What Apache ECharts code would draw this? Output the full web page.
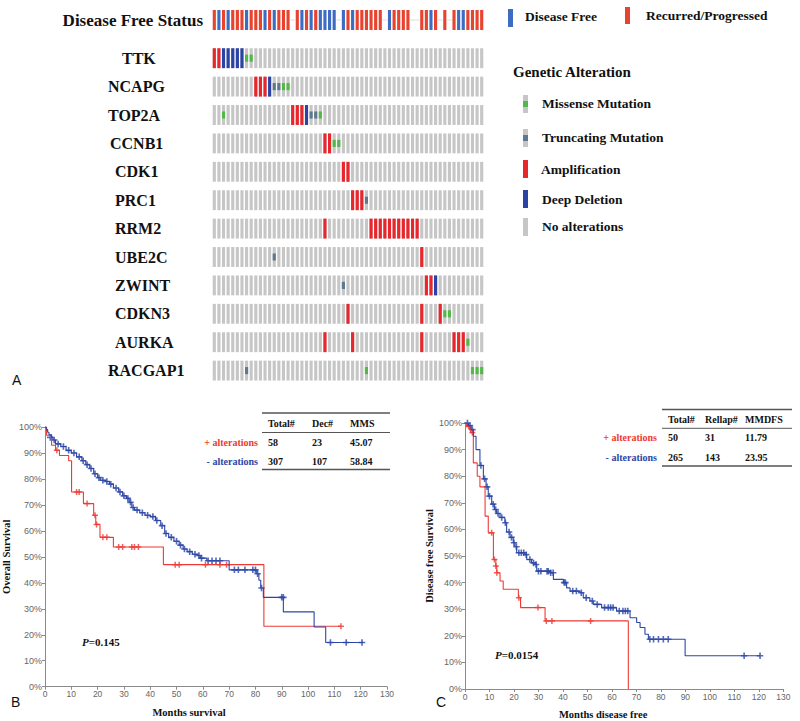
<!DOCTYPE html>
<html><head><meta charset="utf-8">
<script src="https://cdn.jsdelivr.net/npm/echarts@6/dist/echarts.min.js"></script>
<style>html,body{margin:0;padding:0;background:#fff}#c{width:800px;height:721px}</style>
</head><body><div id="c"></div>
<script>
// ---------------- Oncoprint data ----------------
const genes = ['TTK','NCAPG','TOP2A','CCNB1','CDK1','PRC1','RRM2','UBE2C','ZWINT','CDKN3','AURKA','RACGAP1'];
const nCases = 59;
const ampCols = [[0,1],[9,10,11],[17,18,19],[24,25],[28,29],[30,31,32],[24,34,35,36,37,38,39,40,41,42,43,44],[45],[46,47],[29,45,49],[24,30,45,52,53,54],[]];
const delCols = [[2,3,4,5,6],[12],[20],[],[],[],[],[],[48],[],[],[]];
const missenseCols = [[7,8],[15,16],[2,23],[26,27],[],[],[],[],[],[50,51],[55],[33,56,57,58]];
const truncCols = [[],[13,14],[21,22],[],[],[33],[],[13],[28],[],[],[7]];
const dfsStatus = ['R','B','R','B','R','R','R','B','R','R','R','B','R','B','R','R','R','',
  'R','B','R','B','R','B','B','B','B','',
  'B','R','B','R','R','R','R','R','R','',
  'B','R','R','R','R','','',
  'R','R','B','R','',
  'R','',
  'R','B','B','R','R','R','R'];

// ---------------- KM data: Overall survival (B) ----------------
const osAltCurve = [[0,100],[0.6,96.8],[2.5,93],[4,91],[5.5,89],[9,87],[10.1,75],[14.6,70.5],[18.5,66],[19.3,62.5],[20.9,57.5],[26,53.8],[45,47],[83.2,23.3],[112.5,23.3]];
const osAltCensor = [[4.5,91],[12,75],[13,75],[16,70.5],[19,66],[19.6,62.5],[22,57.5],[23.5,57.5],[28,53.8],[29.5,53.8],[33,53.8],[34,53.8],[35.5,53.8],[49.5,47],[51,47],[61,47],[66.5,47],[69,47],[112.5,23.3]];
const osNoAltCurve = [[0,100],[0.5,99],[1,98],[1.5,97],[2.5,96],[3,95],[4,93.5],[6,92.5],[8,91],[10,90],[12,88.5],[14,87],[15.5,85.5],[17,84],[18.5,82],[20,80.5],[21,79.5],[23,79],[24.5,78],[26,76.5],[28,75],[29.5,73.5],[31,72.5],[32,71],[33,69],[34,68],[36,67],[38,66],[40,65.5],[42,64],[44,62],[45.5,59],[47,57.5],[49,56],[51,54.5],[52.5,53],[54,52],[56,51],[58,50.5],[59,49.5],[61.5,48.5],[70,45],[80.5,43.5],[81.3,41],[82,38],[83,34.4],[90.6,28.8],[102.3,23],[106.7,17],[121,17]];
const osNoAltCensor = [[2,96],[3.5,95],[5,93.5],[7,92.5],[9,91],[11,90],[13,88.5],[14.5,87],[16,85.5],[17.5,84],[19,82],[20.5,80.5],[22,79.5],[23.5,79],[25,78],[27,76.5],[28.5,75],[30,73.5],[31.5,72.5],[32.5,71],[33.5,69],[35,68],[37,67],[39,66],[41,65.5],[42.5,64],[44.5,62],[46,59],[48,57.5],[50,56],[51.5,54.5],[53,53],[55,52],[57,51],[58.5,50.5],[59.5,49.5],[62,48.5],[63.5,48.5],[65,48.5],[66.5,48.5],[72,45],[73.5,45],[76,45],[79,45],[80,45],[80.8,43.5],[82.3,38],[90,34.4],[90.6,34.4],[108.5,17],[114.5,17],[120.5,17]];

// ---------------- KM data: Disease free survival (C) ----------------
const dfsAltCurve = [[0,100],[0.7,98.7],[2.3,96.4],[3.4,85],[5,80],[6.1,76],[8.2,65],[9.5,58.7],[11.6,48.7],[12.6,46.2],[13,43.7],[14.3,40.6],[15.6,37.5],[21.8,34.3],[22.7,30.6],[32.7,25.6],[66.7,25.6],[66.7,0]];
const dfsAltCensor = [[1.5,98.7],[3,96.4],[10.9,58.7],[12,48.7],[12.6,46.2],[13,43.7],[22,34.3],[29.8,30.6],[33.2,25.6],[35.5,25.6],[51.3,25.6]];
const dfsNoAltCurve = [[0,100],[1.4,99],[2.5,97.5],[3.4,95],[4.5,90],[6.1,84],[7.5,79],[8.6,76],[9.5,72.5],[10.9,69.5],[12,67.5],[12.9,66],[14.3,64.5],[16.3,62.5],[17,59],[18.4,57],[19.7,55],[20.4,53.5],[21.1,51.2],[24.5,50.5],[25.2,48.7],[27.2,47.4],[28.6,46.8],[29.3,44.3],[34.7,43.7],[36.1,41.2],[40.2,40],[41.5,38],[42.9,36.8],[47,36.2],[48.3,34.3],[51,33.1],[52.4,31.8],[55.8,30.6],[61.9,29.3],[67.4,26.8],[70.1,25],[71.5,23.1],[73.5,20.6],[74.9,18.7],[89.9,12.5],[120.6,12.5]];
const dfsNoAltCensor = [[1,100],[2,99],[3,97.5],[6.5,84],[8,79],[9,76],[10,72.5],[11.5,69.5],[12.5,67.5],[13.5,66],[15,64.5],[16.5,62.5],[18,59],[19,57],[20,55],[21,53.5],[22,51.2],[23,51.2],[24,51.2],[25,50.5],[26.5,48.7],[28,47.4],[29,46.8],[30,44.3],[31,44.3],[33.5,44.3],[34,44.3],[35,43.7],[36,43.7],[40.5,40],[41,40],[44,36.8],[45.5,36.8],[47.5,36.2],[49.5,34.3],[52,33.1],[54,31.8],[57,30.6],[58.5,30.6],[59.5,30.6],[60.5,30.6],[63,29.3],[64.5,29.3],[65.5,29.3],[66.5,29.3],[75.5,18.7],[77,18.7],[79,18.7],[81,18.7],[83,18.7],[114,12.5],[120.5,12.5]];

// ---------------- table text ----------------
const tableBHeader = ['Total#','Dec#','MMS'];
const tableBRows = [['58','23','45.07'],['307','107','58.84']];
const tableCHeader = ['Total#','Rellap#','MMDFS'];
const tableCRows = [['50','31','11.79'],['265','143','23.95']];
const rowLabels = ['+ alterations','- alterations'];
const pValueB = '0.145';
const pValueC = '0.0154';

// ---------------- styles ----------------
const SERIF = '"Liberation Serif","Times New Roman",serif';
const SANS = '"Liberation Sans",Arial,sans-serif';
const C_AMP = '#E8262C', C_DEL = '#2B43A6', C_MIS = '#52B947', C_TRUNC = '#5E7890', C_NONE = '#C6C6C6';
const C_DF = '#3D6CC2', C_REC = '#E8432F';
const C_RED = '#EE3A33', C_BLUE = '#2C46A6';

const caseCats = Array.from({length: nCases}, (_, i) => String(i));

function cellItem(color, hFrac, wFrac) {
  return function (params, api) {
    const p = api.coord([api.value(0), api.value(1)]);
    const sz = api.size([1, 1]);
    const w = sz[0] * wFrac, h = sz[1] * hFrac;
    return {type: 'rect', shape: {x: p[0] - w / 2, y: p[1] - h / 2, width: w, height: h}, style: {fill: color}};
  };
}

const grayData = [], ampData = [], delData = [], misData = [], truncData = [];
genes.forEach((g, gi) => {
  for (let c = 0; c < nCases; c++) grayData.push([c, gi]);
  ampCols[gi].forEach(c => ampData.push([c, gi]));
  delCols[gi].forEach(c => delData.push([c, gi]));
  missenseCols[gi].forEach(c => misData.push([c, gi]));
  truncCols[gi].forEach(c => truncData.push([c, gi]));
});
const dfData = [], recData = [], naData = [];
dfsStatus.forEach((s, c) => {
  if (s === 'B') dfData.push([c, 0]);
  else if (s === 'R') recData.push([c, 0]);
  else naData.push([c, 0]);
});

const W = 0.68, HF = 0.70, HM = 0.25;
const plus = 'path://M3,0H5V3H8V5H5V8H3V5H0V3H3Z';

function kmAxisX(gi, name, pad) {
  return {
    type: 'value', gridIndex: gi, min: 0, max: 130, interval: 10,
    axisLine: {show: true, lineStyle: {color: '#8a8a8a'}},
    axisTick: {show: true, length: 3, lineStyle: {color: '#8a8a8a'}},
    axisLabel: {fontSize: 8.5, color: '#666', margin: 3, fontFamily: SANS},
    splitLine: {show: false},
    name: name, nameLocation: 'middle', nameGap: 20,
    nameTextStyle: {fontFamily: SERIF, fontWeight: 'bold', fontSize: 10.5, color: '#111', padding: pad}
  };
}
function kmAxisY(gi, name, gap) {
  return {
    type: 'value', gridIndex: gi, min: 0, max: 100, interval: 10,
    axisLine: {show: true, lineStyle: {color: '#8a8a8a'}},
    axisTick: {show: true, length: 3, lineStyle: {color: '#8a8a8a'}},
    axisLabel: {fontSize: 9, color: '#666', margin: 3, fontFamily: SANS, formatter: '{value}%'},
    splitLine: {show: false},
    name: name, nameLocation: 'middle', nameGap: gap, nameRotate: 90,
    nameTextStyle: {fontFamily: SERIF, fontWeight: 'bold', fontSize: 10.5, color: '#111'}
  };
}

function tableGraphics(x0, x1, yTop, yHead, yMid, rowsY, yBot, colX, header, rows, labelX) {
  const g = [];
  const line = (y, w) => ({type: 'line', shape: {x1: x0, y1: y, x2: x1, y2: y}, style: {stroke: '#555', lineWidth: w}});
  g.push(line(yTop, 1.6), line(yMid, 1), line(yBot, 1.6));
  const ts = (t, x, y, fill, align) => ({type: 'text', x: x, y: y, style: {text: t, fill: fill || '#111', font: 'bold 10px ' + SERIF, textAlign: align || 'left', textVerticalAlign: 'middle'}});
  header.forEach((h, i) => g.push(ts(h, colX[i], yHead)));
  rows.forEach((r, ri) => {
    g.push(ts(rowLabels[ri], labelX, rowsY[ri], ri === 0 ? C_RED : C_BLUE, 'right'));
    r.forEach((v, i) => g.push(ts(v, colX[i], rowsY[ri])));
  });
  return g;
}

const legendText = (t, x, y, size) => ({type: 'text', x: x, y: y, style: {text: t, fill: '#111', font: 'bold ' + size + 'px ' + SERIF, textVerticalAlign: 'middle'}});
const rect = (x, y, w, h, c) => ({type: 'rect', shape: {x: x, y: y, width: w, height: h}, style: {fill: c}});

const graphics = [
  rect(508, 9, 5, 18, C_DF), legendText('Disease Free', 525, 16, 13.5),
  rect(625, 7, 5, 17, C_REC), legendText('Recurred/Progressed', 646, 15, 13.5),
  legendText('Genetic Alteration', 513, 72, 15),
  rect(523, 95, 5, 18, C_NONE), rect(523, 101, 5, 6, C_MIS), legendText('Missense Mutation', 542, 103, 13.5),
  rect(523, 129, 5, 18, C_NONE), rect(523, 135, 5, 6, C_TRUNC), legendText('Truncating Mutation', 542, 137, 13.5),
  rect(523, 160, 5, 18, C_AMP), legendText('Amplification', 541, 169, 13.5),
  rect(523, 190, 5, 18, C_DEL), legendText('Deep Deletion', 542, 199, 13.5),
  rect(523, 218, 5, 18, C_NONE), legendText('No alterations', 542, 226, 13.5),
  {type: 'text', x: 12, y: 380, style: {text: 'A', fill: '#111', font: '14px ' + SANS, textVerticalAlign: 'middle'}},
  {type: 'text', x: 11, y: 702, style: {text: 'B', fill: '#111', font: '14px ' + SANS, textVerticalAlign: 'middle'}},
  {type: 'text', x: 436, y: 702, style: {text: 'C', fill: '#111', font: '14px ' + SANS, textVerticalAlign: 'middle'}},
  {type: 'text', x: 82, y: 642, style: {text: '{i|P}=' + pValueB, rich: {i: {fontStyle: 'italic', fontWeight: 'bold', fontSize: 11, fontFamily: SERIF, fill: '#111'}}, fill: '#111', font: 'bold 11px ' + SERIF, textVerticalAlign: 'middle'}},
  {type: 'text', x: 495, y: 655, style: {text: '{i|P}=' + pValueC, rich: {i: {fontStyle: 'italic', fontWeight: 'bold', fontSize: 11, fontFamily: SERIF, fill: '#111'}}, fill: '#111', font: 'bold 11px ' + SERIF, textVerticalAlign: 'middle'}}
].concat(
  tableGraphics(262, 390, 413, 423, 432.5, [442.7, 461.7], 469.5, [268, 312, 350], tableBHeader, tableBRows, 258),
  tableGraphics(662, 792, 409.5, 419.3, 428.3, [437.5, 457.3], 466, [668, 705, 745], tableCHeader, tableCRows, 657)
);

// per-label left indent (px) to reproduce the hand-placed gene labels
const labelIndent = {TTK: 14, NCAPG: 0, TOP2A: 0, CCNB1: 2, RACGAP1: 0};
const geneRich = {};
genes.forEach((g, i) => {
  geneRich['g' + i] = {fontFamily: SERIF, fontWeight: 'bold', fontSize: 16, color: '#111',
    padding: [0, 0, 0, labelIndent[g] !== undefined ? labelIndent[g] : 7]};
});

const option = {
  animation: false,
  backgroundColor: '#fff',
  grid: [
    {left: 212, top: 10, width: 272, height: 20},
    {left: 212, top: 44, width: 272, height: 340.8},
    {left: 45, top: 427, width: 342, height: 259.7},
    {left: 465, top: 423, width: 318.3, height: 267}
  ],
  xAxis: [
    {type: 'category', gridIndex: 0, data: caseCats, show: false},
    {type: 'category', gridIndex: 1, data: caseCats, show: false},
    kmAxisX(2, 'Months survival', [0, 54, 0, 0]),
    kmAxisX(3, 'Months disease free', [0, 42, 0, 0])
  ],
  yAxis: [
    {type: 'category', gridIndex: 0, data: ['Disease Free Status'], axisLine: {show: false}, axisTick: {show: false},
     axisLabel: {margin: 9, fontFamily: SERIF, fontWeight: 'bold', fontSize: 17, color: '#111'}},
    {type: 'category', gridIndex: 1, data: genes, inverse: true, axisLine: {show: false}, axisTick: {show: false},
     axisLabel: {margin: 104, align: 'left', rich: geneRich,
       formatter: (v, i) => '{g' + i + '|' + v + '}'}},
    kmAxisY(2, 'Overall Survival', 33),
    kmAxisY(3, 'Disease free Survival', 30)
  ],
  graphic: graphics,
  series: [
    {type: 'custom', name: 'Disease Free', xAxisIndex: 0, yAxisIndex: 0, data: dfData, renderItem: cellItem(C_DF, 1, W), silent: true},
    {type: 'custom', name: 'Recurred/Progressed', xAxisIndex: 0, yAxisIndex: 0, data: recData, renderItem: cellItem(C_REC, 1, W), silent: true},
    {type: 'custom', name: 'No data', xAxisIndex: 0, yAxisIndex: 0, data: naData, renderItem: cellItem('#e2e2e2', 0.06, 1), silent: true},
    {type: 'custom', name: 'No alterations', xAxisIndex: 1, yAxisIndex: 1, data: grayData, renderItem: cellItem(C_NONE, HF, W), silent: true},
    {type: 'custom', name: 'Amplification', xAxisIndex: 1, yAxisIndex: 1, data: ampData, renderItem: cellItem(C_AMP, HF, W), silent: true},
    {type: 'custom', name: 'Deep Deletion', xAxisIndex: 1, yAxisIndex: 1, data: delData, renderItem: cellItem(C_DEL, HF, W), silent: true},
    {type: 'custom', name: 'Missense Mutation', xAxisIndex: 1, yAxisIndex: 1, data: misData, renderItem: cellItem(C_MIS, HM, W), silent: true},
    {type: 'custom', name: 'Truncating Mutation', xAxisIndex: 1, yAxisIndex: 1, data: truncData, renderItem: cellItem(C_TRUNC, HM, W), silent: true},

    {type: 'line', name: '+ alterations OS', xAxisIndex: 2, yAxisIndex: 2, data: osAltCurve, step: 'end', showSymbol: false, lineStyle: {color: C_RED, width: 1.1}},
    {type: 'line', name: '- alterations OS', xAxisIndex: 2, yAxisIndex: 2, data: osNoAltCurve, step: 'end', showSymbol: false, lineStyle: {color: C_BLUE, width: 1.1}},
    {type: 'scatter', xAxisIndex: 2, yAxisIndex: 2, data: osNoAltCensor, symbol: plus, symbolSize: 6.5, itemStyle: {color: C_BLUE}},
    {type: 'scatter', xAxisIndex: 2, yAxisIndex: 2, data: osAltCensor, symbol: plus, symbolSize: 6, itemStyle: {color: C_RED}},

    {type: 'line', name: '+ alterations DFS', xAxisIndex: 3, yAxisIndex: 3, data: dfsAltCurve, step: 'end', showSymbol: false, lineStyle: {color: C_RED, width: 1.1}},
    {type: 'line', name: '- alterations DFS', xAxisIndex: 3, yAxisIndex: 3, data: dfsNoAltCurve, step: 'end', showSymbol: false, lineStyle: {color: C_BLUE, width: 1.1}},
    {type: 'scatter', xAxisIndex: 3, yAxisIndex: 3, data: dfsNoAltCensor, symbol: plus, symbolSize: 6.5, itemStyle: {color: C_BLUE}},
    {type: 'scatter', xAxisIndex: 3, yAxisIndex: 3, data: dfsAltCensor, symbol: plus, symbolSize: 6, itemStyle: {color: C_RED}}
  ]
};

const chart = echarts.init(document.getElementById('c'), null, {renderer: 'svg', width: 800, height: 721});
chart.setOption(option);
</script>
</body></html>
